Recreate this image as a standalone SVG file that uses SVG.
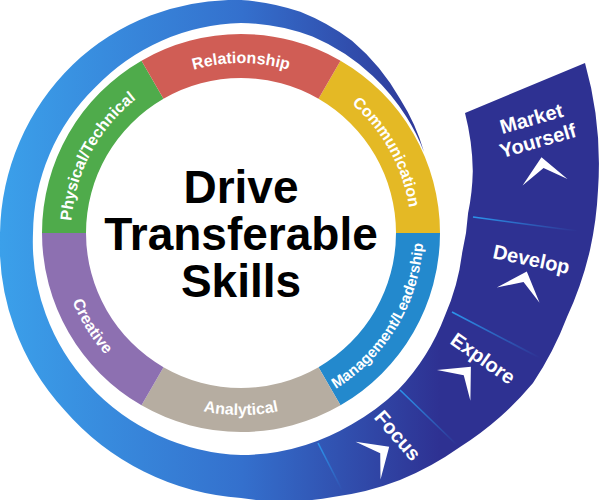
<svg xmlns="http://www.w3.org/2000/svg" width="600" height="500" viewBox="0 0 600 500">
<style>
  .seg-label{font-family:"Liberation Sans",Arial,Helvetica,sans-serif;font-weight:bold;font-size:16px;fill:#ffffff}
  .band-label{font-family:"Liberation Sans",Arial,Helvetica,sans-serif;font-weight:bold;font-size:20px;fill:#ffffff;text-anchor:middle}
  .title{font-family:"Liberation Sans",Arial,Helvetica,sans-serif;font-weight:bold;font-size:46px;fill:#000000;text-anchor:middle}
  .divider{stroke:url(#divGrad);stroke-width:1.6;fill:none}
  .chev{fill:#ffffff}
</style>
<defs>
  <linearGradient id="spiralGrad" gradientUnits="userSpaceOnUse" x1="0" y1="0" x2="440" y2="0">
    <stop offset="0" stop-color="#3ba0ea"/>
    <stop offset="0.55" stop-color="#3470cd"/>
    <stop offset="1" stop-color="#2e3192"/>
  </linearGradient>
  <linearGradient id="divGrad" x1="0" y1="0" x2="1" y2="1">
    <stop offset="0" stop-color="#2b95ec" stop-opacity="1"/>
    <stop offset="1" stop-color="#2b95ec" stop-opacity="0"/>
  </linearGradient>
  <path id="pRel" d="M93.8,148 A170,170 0 0 1 388.2,148"/>
  <path id="pCom" d="M244,63 A170,170 0 0 1 386.7,320.6"/>
  <path id="pPhy" d="M96.8,323.1 A170,170 0 0 1 235.1,63.1"/>
  <path id="pAna" d="M82.5,324.5 A184,184 0 0 0 399.5,324.5"/>
  <path id="pCre" d="M79.4,147.1 A184,184 0 0 0 247.4,415.9"/>
  <path id="pMan" d="M237.8,416 A184,184 0 0 0 401.1,144.3"/>
</defs>
<rect width="600" height="500" fill="#ffffff"/>

<g id="spiral">
  <path fill="url(#spiralGrad)" d="M424,152 A204,204 0 0 0 400.3,99.3 A215,215 0 0 0 352,40.7 A225,225 0 0 0 300.3,11.8 A231,231 0 0 0 241,0 A235,235 0 0 0 72.7,64.7 A240,240 0 0 0 0,233 A245,245 0 0 0 64.2,409.8 A257,257 0 0 0 241,498 A272,272 0 0 0 333,497 A287,287 0 0 0 400,480 A300,300 0 0 0 460,447 A312,312 0 0 0 500,417 A323,323 0 0 0 533,383 A332,332 0 0 0 567,317 A343,343 0 0 0 590,250 A355,355 0 0 0 598,190 A372,372 0 0 0 585,63 L465,113 A247,247 0 0 1 472.8,170.9 A234,234 0 0 1 468.1,213.1 A225,225 0 0 1 462.2,252.4 A221,221 0 0 1 445,315.4 A221,221 0 0 1 398,390 A221,221 0 0 1 351.5,424.4 A221,221 0 0 1 241,455 A218,218 0 0 1 89,385 A211,211 0 0 1 33,233 A207,207 0 0 1 95.3,87.3 A208,208 0 0 1 241,23 A209,209 0 0 1 312.5,36.6 A207,207 0 0 1 372.8,76 A203,203 0 0 1 406.5,117.1 A201,201 0 0 1 424,152 Z"/>
</g>

<g id="dividers">
  <line class="divider" x1="473" y1="217" x2="577" y2="231"/>
  <line class="divider" x1="452" y1="312" x2="540" y2="358"/>
  <line class="divider" x1="400" y1="390" x2="457" y2="445"/>
  <line class="divider" x1="318" y1="443" x2="342" y2="490"/>
</g>

<g id="seg-communication">
  <path fill="#e4b925" d="M340.5,60.7 A199,199 0 0 1 440,233 L396,233 A155,155 0 0 0 318.5,98.8 Z"/>
  <text class="seg-label"><textPath href="#pCom" startOffset="50%" text-anchor="middle">Communication</textPath></text>
</g>
<g id="seg-management">
  <path fill="#2389cd" d="M440,233 A199,199 0 0 1 340.5,405.3 L318.5,367.2 A155,155 0 0 0 396,233 Z"/>
  <text class="seg-label" style="font-size:15px"><textPath href="#pMan" startOffset="50%" text-anchor="middle">Management/Leadership</textPath></text>
</g>
<g id="seg-analytical">
  <path fill="#b6ada1" d="M340.5,405.3 A199,199 0 0 1 141.5,405.3 L163.5,367.2 A155,155 0 0 0 318.5,367.2 Z"/>
  <text class="seg-label"><textPath href="#pAna" startOffset="50%" text-anchor="middle">Analytical</textPath></text>
</g>
<g id="seg-creative">
  <path fill="#8d70b1" d="M141.5,405.3 A199,199 0 0 1 42,233 L86,233 A155,155 0 0 0 163.5,367.2 Z"/>
  <text class="seg-label"><textPath href="#pCre" startOffset="50%" text-anchor="middle">Creative</textPath></text>
</g>
<g id="seg-physical">
  <path fill="#4fab4b" d="M42,233 A199,199 0 0 1 141.5,60.7 L163.5,98.8 A155,155 0 0 0 86,233 Z"/>
  <text class="seg-label"><textPath href="#pPhy" startOffset="50%" text-anchor="middle">Physical/Technical</textPath></text>
</g>
<g id="seg-relationship">
  <path fill="#d05d55" d="M141.5,60.7 A199,199 0 0 1 340.5,60.7 L318.5,98.8 A155,155 0 0 0 163.5,98.8 Z"/>
  <text class="seg-label"><textPath href="#pRel" startOffset="50%" text-anchor="middle">Relationship</textPath></text>
</g>

<g id="title">
  <text class="title" x="241" y="203">Drive</text>
  <text class="title" x="241" y="250">Transferable</text>
  <text class="title" x="241" y="297">Skills</text>
</g>

<g id="step-market-yourself" transform="translate(535,131) rotate(-16)">
  <text class="band-label" x="0" y="-6">Market</text>
  <text class="band-label" x="0" y="17">Yourself</text>
  <path class="chev" transform="translate(-2,38)" d="M1,-11 L20,17 L0,0 L-25,11 Z"/>
</g>
<g id="step-develop" transform="translate(530,266) rotate(12)">
  <text class="band-label" x="0" y="0">Develop</text>
  <path class="chev" transform="translate(-3,17)" d="M1,-11 L20,17 L0,0 L-25,11 Z"/>
</g>
<g id="step-explore" transform="translate(479,364) rotate(35)">
  <text class="band-label" x="0" y="0">Explore</text>
  <path class="chev" transform="translate(-6,18)" d="M1,-11 L20,17 L0,0 L-25,11 Z"/>
</g>
<g id="step-focus" transform="translate(392.5,440) rotate(49)">
  <text class="band-label" x="0" y="0">Focus</text>
  <path class="chev" transform="translate(2,18)" d="M1,-11 L20,17 L0,0 L-25,11 Z"/>
</g>
</svg>
